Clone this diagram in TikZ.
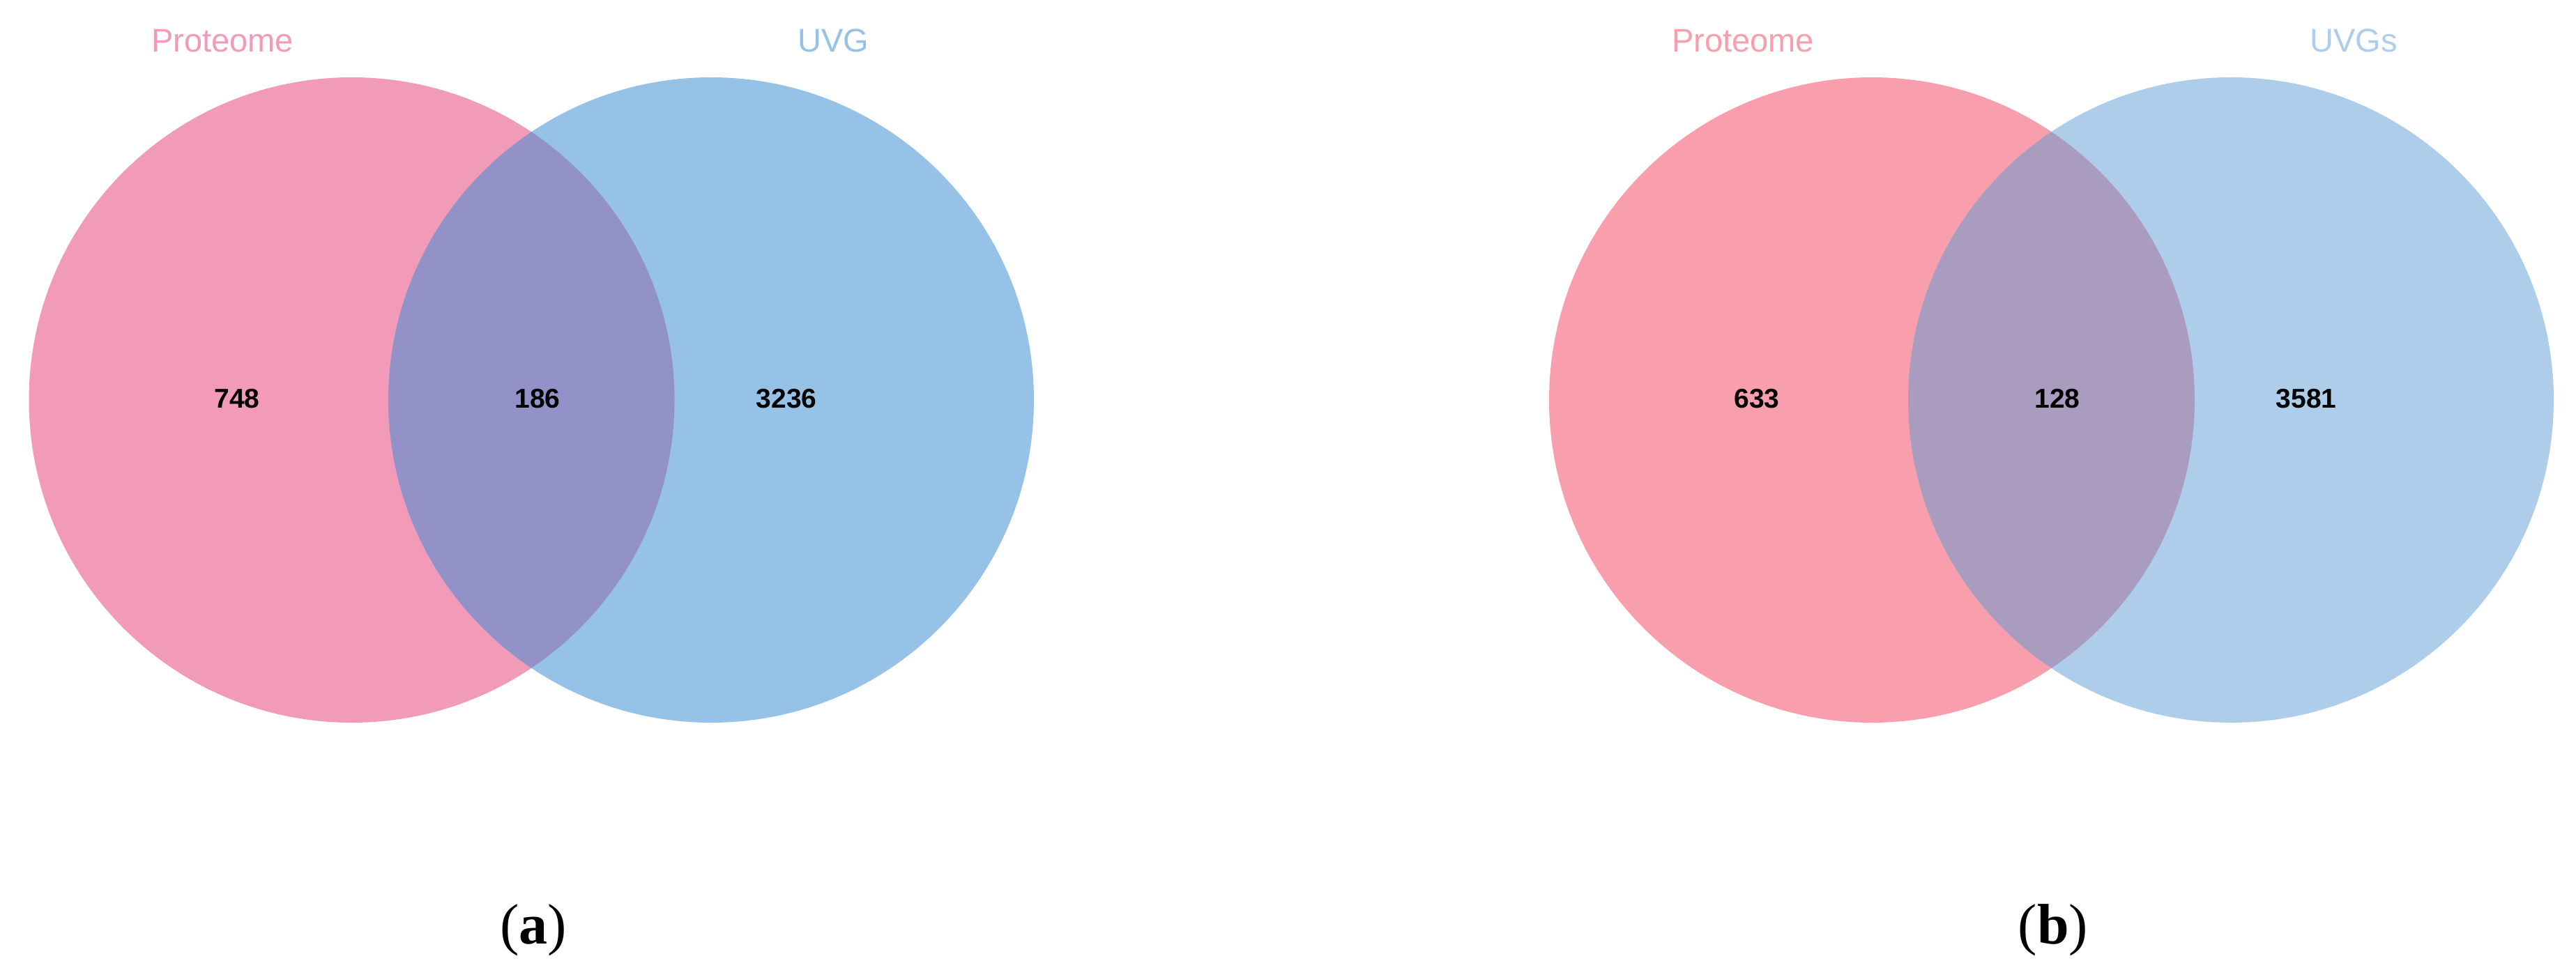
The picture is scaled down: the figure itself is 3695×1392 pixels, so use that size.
\documentclass[tikz,border=0pt]{standalone}
\usepackage{fontspec}
\newfontfamily\lsans{Liberation Sans}
\newfontfamily\lserif{Liberation Serif}
\definecolor{pinkA}{RGB}{241,155,185}
\definecolor{blueA}{RGB}{151,194,232}
\definecolor{midA}{RGB}{146,146,200}
\definecolor{pinkB}{RGB}{248,158,172}
\definecolor{blueB}{RGB}{174,205,234}
\definecolor{midB}{RGB}{170,156,191}
\begin{document}
\begin{tikzpicture}[x=1pt,y=-1pt,
  setlabel/.style={font=\lsans\fontsize{47}{50}\selectfont, anchor=base, inner sep=0pt},
  countlabel/.style={font=\lsans\bfseries\fontsize{39}{42}\selectfont, inner sep=0pt, anchor=center},
  sublabel/.style={font=\lserif\fontsize{82}{90}\selectfont, anchor=base, inner sep=0pt}]
\useasboundingbox[fill=white] (0,0) rectangle (3695,1392);
% diagram (a)
\fill[pinkA] (504.5,574) circle[radius=463pt];
\fill[blueA] (1020,574) circle[radius=463pt];
\begin{scope}
  \clip (504.5,574) circle[radius=463pt];
  \fill[midA] (1020,574) circle[radius=463pt];
\end{scope}
\node[setlabel, text=pinkA] (propA) at (319,74) {Proteome};
\node[setlabel, text=blueA] (uvgA) at (1195,74) {UVG};
\node[countlabel] (nA1) at (340,572) {748};
\node[countlabel] (nA2) at (771,572) {186};
\node[countlabel] (nA3) at (1128,572) {3236};
\node[sublabel] (capA) at (765,1354) {(\textbf{a})};
% diagram (b)
\fill[pinkB] (2685,574) circle[radius=463pt];
\fill[blueB] (3200,574) circle[radius=463pt];
\begin{scope}
  \clip (2685,574) circle[radius=463pt];
  \fill[midB] (3200,574) circle[radius=463pt];
\end{scope}
\node[setlabel, text=pinkB] (propB) at (2500,74) {Proteome};
\node[setlabel, text=blueB] (uvgB) at (3376,74) {UVGs};
\node[countlabel] (nB1) at (2520,572) {633};
\node[countlabel] (nB2) at (2951,572) {128};
\node[countlabel] (nB3) at (3308,572) {3581};
\node[sublabel] (capB) at (2945,1354) {(\textbf{b})};
\end{tikzpicture}
\end{document}
